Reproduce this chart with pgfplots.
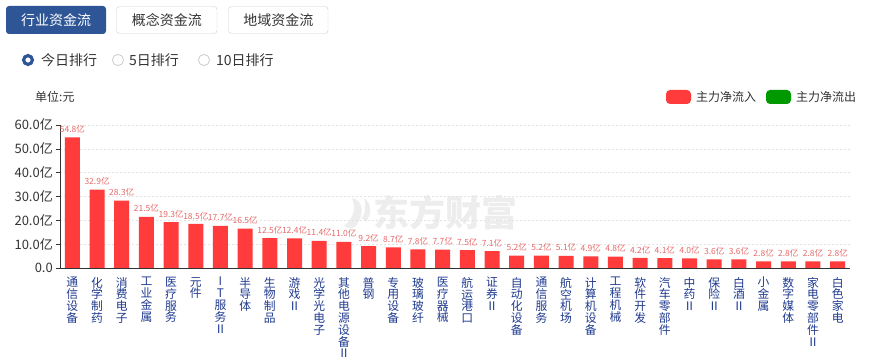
\documentclass[border=0pt]{standalone}
\usepackage{fontspec}
\setmainfont{Noto Sans CJK SC}
\usepackage{pgfplots}
\pgfplotsset{compat=1.18}
\definecolor{barred}{HTML}{FF3B3B}
\definecolor{valred}{HTML}{E66A6A}
\definecolor{navy}{HTML}{1F3A8F}
\definecolor{btnblue}{HTML}{2E5596}
\definecolor{txt}{HTML}{333333}
\definecolor{gridc}{HTML}{E3E3E3}
\definecolor{lgreen}{HTML}{009A00}
\definecolor{bordc}{HTML}{CCCCCC}
\begin{document}
\begin{tikzpicture}[x=1pt,y=1pt]
\path[use as bounding box] (0,0) rectangle (873,364);
% watermark
\node[anchor=west, text=black!7, font=\fontsize{36}{36}\selectfont\bfseries, inner sep=0] at (373,151) {东方财富};
\fill[black!7] (352,166) .. controls (362,164) and (366,152) .. (356,138) .. controls (352,134) and (346,136) .. (344,138)
  .. controls (354,146) and (356,156) .. (352,166) -- cycle;
\fill[black!7] (364,166) .. controls (372,160) and (372,150) .. (366,142) -- (362,146) .. controls (366,152) and (366,160) .. (364,166) -- cycle;
% buttons
\fill[btnblue, rounded corners=3pt] (6,330) rectangle (106,358);
\node[text=white, font=\fontsize{14}{14}\selectfont] at (56,344) {行业资金流};
\draw[bordc, rounded corners=3pt] (116.5,330.5) rectangle (217,357.5);
\node[text=txt, font=\fontsize{14}{14}\selectfont] at (166.75,344) {概念资金流};
\draw[bordc, rounded corners=3pt] (228.5,330.5) rectangle (328,357.5);
\node[text=txt, font=\fontsize{14}{14}\selectfont] at (278.25,344) {地域资金流};
% radio
\draw[btnblue, line width=3.2pt, fill=white] (28,304) circle (4.4);
\node[anchor=west, text=txt, font=\fontsize{14}{14}\selectfont, inner sep=0] at (41,304) {今日排行};
\draw[bordc, line width=0.8pt, fill=white] (118,304) circle (5.6);
\node[anchor=west, text=txt, font=\fontsize{14}{14}\selectfont, inner sep=0] at (129,304) {5日排行};
\draw[bordc, line width=0.8pt, fill=white] (204,304) circle (5.6);
\node[anchor=west, text=txt, font=\fontsize{14}{14}\selectfont, inner sep=0] at (216,304) {10日排行};
% unit
\node[anchor=west, text=txt, font=\fontsize{12}{12}\selectfont, inner sep=0] at (35,267) {单位:元};
% legend
\fill[barred, rounded corners=4pt] (666,260) rectangle (691,274);
\node[anchor=west, text=txt, font=\fontsize{12}{12}\selectfont, inner sep=0] at (696,267) {主力净流入};
\fill[lgreen, rounded corners=4pt] (766,260) rectangle (791,274);
\node[anchor=west, text=txt, font=\fontsize{12}{12}\selectfont, inner sep=0] at (796,267) {主力净流出};
\begin{axis}[
  at={(60pt,96pt)}, anchor=south west,
  scale only axis, width=790pt, height=143pt,
  xmin=-0.5, xmax=31.5, ymin=0, ymax=60,
  axis x line*=bottom, axis y line*=left,
  axis line style={draw=txt, line width=0.8pt},
  /pgf/number format/assume math mode=true,
  ybar, bar width=15pt,
  ytick={0,10,20,30,40,50,60},
  yticklabels={0.0,10.0亿,20.0亿,30.0亿,40.0亿,50.0亿,60.0亿},
  yticklabel style={font=\fontsize{13}{13}\selectfont, text=txt, anchor=east, inner sep=0pt, xshift=-3pt},
  ytick style={draw=txt, line width=0.6pt},
  tick align=outside, major tick length=4pt,
  ymajorgrids, grid style={draw=gridc, dash pattern=on 2pt off 2pt, line width=0.6pt},
  xtick=data,
  xtick style={draw=none},
  xticklabels={{通\\信\\设\\备},{化\\学\\制\\药},{消\\费\\电\\子},{工\\业\\金\\属},{医\\疗\\服\\务},{元\\件},{I\\T\\服\\务\\Ⅱ},{半\\导\\体},{生\\物\\制\\品},{游\\戏\\Ⅱ},{光\\学\\光\\电\\子},{其\\他\\电\\源\\设\\备\\Ⅱ},{普\\钢},{专\\用\\设\\备},{玻\\璃\\玻\\纤},{医\\疗\\器\\械},{航\\运\\港\\口},{证\\券\\Ⅱ},{自\\动\\化\\设\\备},{通\\信\\服\\务},{航\\空\\机\\场},{计\\算\\机\\设\\备},{工\\程\\机\\械},{软\\件\\开\\发},{汽\\车\\零\\部\\件},{中\\药\\Ⅱ},{保\\险\\Ⅱ},{白\\酒\\Ⅱ},{小\\金\\属},{数\\字\\媒\\体},{家\\电\\零\\部\\件\\Ⅱ},{白\\色\\家\\电}},
  xticklabel style={font=\fontsize{11.8}{11.8}\selectfont, text=navy, align=center, anchor=north, inner sep=0pt, yshift=-5pt},
  nodes near coords={\pgfmathprintnumber[fixed,fixed zerofill,precision=1]{\pgfplotspointmeta}亿},
  every node near coord/.append style={font=\fontsize{8.5}{8.5}\selectfont, text=valred, inner sep=0pt, yshift=4pt},
  clip=false,
]
\addplot[fill=barred, draw=none] coordinates {
(0,54.8) (1,32.9) (2,28.3) (3,21.5) (4,19.3) (5,18.5) (6,17.7) (7,16.5)
(8,12.5) (9,12.4) (10,11.4) (11,11.0) (12,9.2) (13,8.7) (14,7.8) (15,7.7)
(16,7.5) (17,7.1) (18,5.2) (19,5.2) (20,5.1) (21,4.9) (22,4.8) (23,4.2)
(24,4.1) (25,4.0) (26,3.6) (27,3.6) (28,2.8) (29,2.8) (30,2.8) (31,2.8)
};
\end{axis}
\end{tikzpicture}
\end{document}
